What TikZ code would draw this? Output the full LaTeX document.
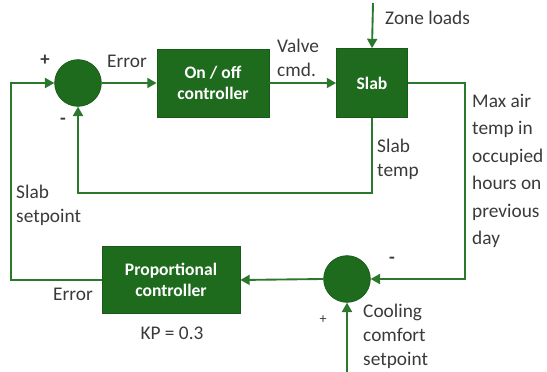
\documentclass[tikz,border=0pt]{standalone}
\usepackage{fontspec}
\setmainfont{Carlito}
\usepackage{tikz}
\usetikzlibrary{arrows.meta, positioning, calc}
\definecolor{boxgreen}{HTML}{1E6B1E}
\definecolor{edgegreen}{HTML}{185A18}
\definecolor{linegreen}{HTML}{2B772B}
\definecolor{labelgray}{HTML}{3A3A3A}
\tikzset{
  % Blocks
  component/.style={
    rectangle, draw=edgegreen, line width=0.6pt, fill=boxgreen, text=white,
    font=\fontsize{15}{18}\selectfont\bfseries, align=center, inner sep=0pt
  },
  % Summing junctions
  junction/.style={
    circle, draw=edgegreen, line width=0.6pt, fill=boxgreen,
    minimum size=1.4cm, inner sep=0pt
  },
  % Arrows
  flow/.style={-{Triangle[length=0.28cm, width=0.3cm]}, line width=1.6pt, color=linegreen},
  wire/.style={line width=1.6pt, color=linegreen},
  % Labels
  flowlabel/.style={font=\fontsize{16.5}{20.5}\selectfont, text=labelgray, align=left, inner sep=0pt},
  signlabel/.style={font=\fontsize{16}{18}\selectfont\bfseries, text=labelgray, inner sep=0pt},
}

\begin{document}
\begin{tikzpicture}[x=0.03cm, y=-0.03cm]
  \useasboundingbox (0,0) rectangle (547,372);

  % blocks
  \node[junction] (sum1) at (78,83) {};
  \node[component, minimum width=3.36cm, minimum height=2.04cm] (onoff) at (213,83) {On / off\\controller};
  \node[component, minimum width=2.13cm, minimum height=2.07cm] (slab) at (372,83) {Slab};
  \node[component, minimum width=4.14cm, minimum height=2.01cm] (prop) at (171,280) {Proportional\\controller};
  \node[junction] (sum2) at (347,279) {};

  % free ends and corners
  \coordinate (zone) at (373,3);
  \coordinate (cool) at (347,372);
  \coordinate (corner) at (11,280);
  \coordinate (fb) at (78,193);
  \coordinate (mx) at (465,180);

  % connectors
  \draw[flow] (sum1.east) -- (onoff.west);
  \draw[flow] (onoff.east) -- (slab.west);
  \draw[flow] (zone) -- (slab.north);
  \draw[flow] (slab.south) |- (fb) -- (sum1.south);
  \draw[flow] (slab.east) -| (mx) |- (sum2.east);
  \draw[flow] (sum2.west) -- (prop.east);
  \draw[flow] (cool) -- (sum2.south);
  \draw[flow] (prop.west) -- (corner) |- (sum1.west);

  % labels
  \node[signlabel] (plus1) at (45,60) {+};
  \node[signlabel] (minus1) at (63,121) {-};
  \node[flowlabel] (err1) at (127,61) {Error};
  \node[flowlabel, anchor=west] (valve) at (277,58) {Valve\\cmd.};
  \node[flowlabel, anchor=west] (zonelbl) at (385,18) {Zone loads};
  \node[flowlabel, anchor=west] (slabtemp) at (377,159) {Slab\\temp};
  \node[flowlabel, anchor=west, font=\fontsize{16.5}{23.5}\selectfont] (maxair) at (472,171) {Max air\\temp in\\occupied\\hours on\\previous\\day};
  \node[flowlabel, anchor=west] (setpt) at (16,205) {Slab\\setpoint};
  \node[flowlabel] (err2) at (73,294) {Error};
  \node[flowlabel] (kp) at (172,333) {KP = 0.3};
  \node[signlabel] (minus2) at (392,260) {-};
  \node[signlabel, font=\fontsize{12}{14}\selectfont] (plus2) at (323,320) {+};
  \node[flowlabel, anchor=west] (coollbl) at (363,336) {Cooling\\comfort\\setpoint};
\end{tikzpicture}
\end{document}
